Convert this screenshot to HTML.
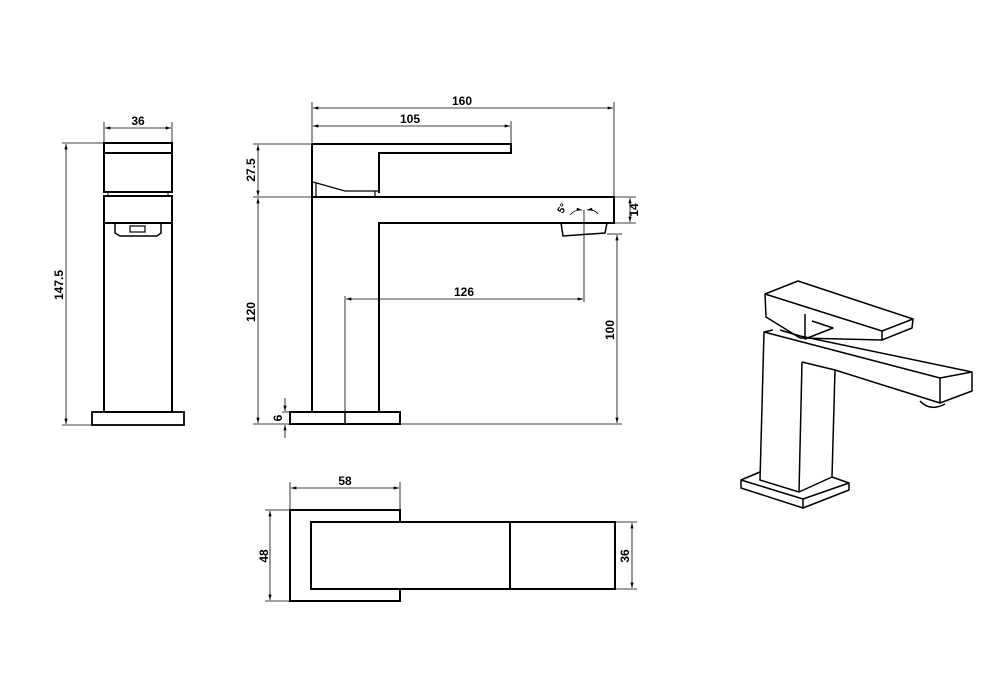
<!DOCTYPE html>
<html><head><meta charset="utf-8"><style>
html,body{margin:0;padding:0;background:#fff;}
svg{display:block;}
text{font-family:"Liberation Sans Narrow","Liberation Sans",sans-serif;font-size:12px;font-weight:bold;fill:#000;}
</style></head><body>
<svg width="1004" height="675" viewBox="0 0 1004 675" xmlns="http://www.w3.org/2000/svg">
<defs>
<marker id="a" viewBox="0 0 10 6" refX="10" refY="3" markerWidth="7" markerHeight="4" orient="auto-start-reverse"><path d="M0,0L10,3L0,6z" fill="#000"/></marker>
</defs>
<g fill="none" stroke="#000">
<!-- LEFT VIEW -->
<g stroke-width="0.8">
<line x1="104" y1="122" x2="104" y2="143"/><line x1="172" y1="122" x2="172" y2="143"/>
<line x1="105" y1="128" x2="171" y2="128" marker-start="url(#a)" marker-end="url(#a)"/>
<line x1="62" y1="143" x2="104" y2="143"/><line x1="62" y1="425" x2="92" y2="425"/>
<line x1="66" y1="144" x2="66" y2="424" marker-start="url(#a)" marker-end="url(#a)"/>
</g>
<g stroke-width="2">
<rect x="104" y="143" width="68" height="49"/>
<line x1="104" y1="153" x2="172" y2="153"/>
<rect x="104" y="196" width="68" height="216"/>
<line x1="104" y1="223" x2="172" y2="223"/>
</g>
<path d="M115,223 L115,233 L120,236 L157,236 L161,233 L161,223" stroke-width="1.5"/>
<rect x="130" y="226" width="15" height="6" stroke-width="1.2"/>
<line x1="108" y1="192" x2="108" y2="196" stroke-width="1"/><line x1="168" y1="192" x2="168" y2="196" stroke-width="1"/>
<rect x="92" y="412" width="92" height="13" stroke-width="1.8"/>

<!-- MAIN VIEW -->
<g stroke-width="0.8">
<line x1="312" y1="102" x2="312" y2="144"/>
<line x1="614" y1="102" x2="614" y2="197"/>
<line x1="313" y1="108" x2="613" y2="108" marker-start="url(#a)" marker-end="url(#a)"/>
<line x1="511" y1="121" x2="511" y2="144"/>
<line x1="313" y1="126" x2="510" y2="126" marker-start="url(#a)" marker-end="url(#a)"/>
<line x1="253" y1="144" x2="312" y2="144"/>
<line x1="253" y1="197" x2="312" y2="197"/>
<line x1="258" y1="145" x2="258" y2="196" marker-start="url(#a)" marker-end="url(#a)"/>
<line x1="258" y1="198" x2="258" y2="423" marker-start="url(#a)" marker-end="url(#a)"/>
<line x1="253" y1="424" x2="290" y2="424"/>
<line x1="400" y1="424" x2="622" y2="424"/>
<line x1="285" y1="398" x2="285" y2="411" marker-end="url(#a)"/>
<line x1="285" y1="438" x2="285" y2="425" marker-end="url(#a)"/>
<line x1="282" y1="412" x2="290" y2="412"/>
<line x1="614" y1="197" x2="636" y2="197"/><line x1="614" y1="223" x2="636" y2="223"/>
<line x1="630" y1="198" x2="630" y2="222" marker-start="url(#a)" marker-end="url(#a)"/>
<line x1="607" y1="234" x2="622" y2="234"/>
<line x1="617" y1="235" x2="617" y2="423" marker-start="url(#a)" marker-end="url(#a)"/>
<line x1="345" y1="296" x2="345" y2="424"/>
<line x1="584" y1="210" x2="584" y2="302"/>
<line x1="346" y1="299" x2="583" y2="299" marker-start="url(#a)" marker-end="url(#a)"/>
<path d="M570,215 Q575,209 582,210" marker-end="url(#a)"/>
<path d="M598,214 Q594,209 587,210" marker-end="url(#a)"/>
</g>
<g stroke-width="2">
<path d="M312,144 L511,144 L511,153 L379,153 L379,193"/>
<line x1="312" y1="144" x2="312" y2="412"/>
<path d="M312,197 L614,197 L614,223 L379,223 L379,412"/>
<rect x="290" y="412" width="110" height="12"/>
</g>
<path d="M313,182 L345,191 L378,191 M316,183 L316,197 M375,191 L375,197" stroke-width="1.2"/>
<path d="M561,223 L563,236 L605,233 L607,223" stroke-width="1.5"/>
<line x1="345" y1="412" x2="345" y2="424" stroke-width="1.5"/>

<!-- BOTTOM VIEW -->
<g stroke-width="0.8">
<line x1="290" y1="482" x2="290" y2="510"/><line x1="400" y1="482" x2="400" y2="510"/>
<line x1="291" y1="488" x2="399" y2="488" marker-start="url(#a)" marker-end="url(#a)"/>
<line x1="265" y1="510" x2="290" y2="510"/><line x1="265" y1="601" x2="290" y2="601"/>
<line x1="270" y1="511" x2="270" y2="600" marker-start="url(#a)" marker-end="url(#a)"/>
<line x1="615" y1="522" x2="637" y2="522"/><line x1="615" y1="589" x2="637" y2="589"/>
<line x1="632" y1="523" x2="632" y2="588" marker-start="url(#a)" marker-end="url(#a)"/>
</g>
<g stroke-width="2">
<path d="M400,522 L400,510 L290,510 L290,601 L400,601 L400,589"/>
<rect x="311" y="522" width="304" height="67"/>
<line x1="510" y1="522" x2="510" y2="589"/>
</g>

<!-- ISO VIEW -->
<g stroke-width="1.5" stroke-linejoin="round">
<path d="M765,294 L798,281 L913,319 L882,331 Z"/>
<path d="M765,294 L766,317 L800,338 M882,331 L882,340 L912,328 L913,319"/>
<path d="M800,338 L882,340"/>
<path d="M805,314 L805,339 L833,328 L812,321"/>
<path d="M773,330 L764,332 L760,480 L799,492 L802,362"/>
<path d="M764,332 L940,378 L972,372 L972,391 L940,403 L940,378"/>
<path d="M780,330 L800,336 M800,336 L972,372"/>
<path d="M802,362 L835,370 L832,477 L799,492"/>
<path d="M835,370 L940,403"/>
<path d="M920,401 Q930,412 945,404"/>
<path d="M760,472 L741,480 L741,488 L803,508 L849,490 L849,483 L832,477"/>
<path d="M741,480 L803,499 L849,483 M803,499 L803,508"/>
</g>
</g>

<g>
<text x="138" y="125" text-anchor="middle">36</text>
<text x="462" y="105" text-anchor="middle">160</text>
<text x="410" y="123" text-anchor="middle">105</text>
<text x="464" y="296" text-anchor="middle">126</text>
<text x="345" y="485" text-anchor="middle">58</text>
<text transform="translate(63,285) rotate(-90)" text-anchor="middle">147.5</text>
<text transform="translate(255,170) rotate(-90)" text-anchor="middle">27.5</text>
<text transform="translate(255,312) rotate(-90)" text-anchor="middle">120</text>
<text transform="translate(282,418) rotate(-90)" text-anchor="middle">6</text>
<text transform="translate(638,210) rotate(-90)" text-anchor="middle">14</text>
<text transform="translate(614,330) rotate(-90)" text-anchor="middle">100</text>
<text transform="translate(268,556) rotate(-90)" text-anchor="middle">48</text>
<text transform="translate(629,556) rotate(-90)" text-anchor="middle">36</text>
<text transform="translate(565,210) rotate(-60)" text-anchor="middle" style="font-size:10px">5°</text>
</g>
</svg>
</body></html>
